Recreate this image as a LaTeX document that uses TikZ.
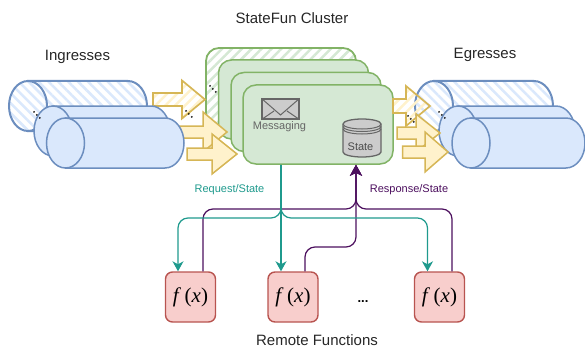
\documentclass[tikz,border=0pt]{standalone}
\usepackage{fontspec}
\setmainfont{Liberation Sans}
\newfontfamily\fnfont{Liberation Serif}
\usetikzlibrary{arrows.meta,patterns.meta}
\definecolor{bluefill}{HTML}{DAE8FC}
\definecolor{blueline}{HTML}{6C8EBF}
\definecolor{greenfill}{HTML}{D5E8D4}
\definecolor{greenline}{HTML}{82B366}
\definecolor{yellowfill}{HTML}{FFF2CC}
\definecolor{yellowline}{HTML}{D6B656}
\definecolor{redfill}{HTML}{F8CECC}
\definecolor{redline}{HTML}{B85450}
\definecolor{reqcolor}{HTML}{1F9A8D}
\definecolor{respcolor}{HTML}{4C0F5E}
\tikzset{
    txt/.style={inner sep=0pt, font=\fontsize{15}{18}\selectfont, text=black!85},
    smalltxt/.style={inner sep=0pt, font=\fontsize{11}{13}\selectfont},
    graybox/.style={draw=black!60, fill=black!20, line width=1.3pt},
    dots/.style={inner sep=0pt, rotate=-45, font=\fontsize{15}{18}\selectfont},
    cyl/.style={draw=blueline, fill=bluefill, line width=1.5pt},
    cylback/.style={draw=blueline, line width=2pt, preaction={fill=white},
        pattern={Lines[angle=-45,distance=7pt,line width=2.5pt]}, pattern color=bluefill},
    inst/.style={draw=greenline, fill=greenfill, line width=1.5pt, rounded corners=13pt,
        minimum width=150pt, minimum height=79pt, inner sep=0pt},
    instback/.style={inst, fill=none, line width=1.8pt, preaction={fill=white},
        pattern={Lines[angle=45,distance=7pt,line width=2.5pt]}, pattern color=greenfill},
    arr/.style={draw=yellowline, fill=yellowfill, line width=1.5pt},
    arrback/.style={draw=yellowline, line width=1.7pt,
        pattern={Lines[angle=45,distance=7pt,line width=2.5pt]}, pattern color=yellowfill},
    fn/.style={draw=redline, fill=redfill, line width=1.4pt, rounded corners=7pt,
        minimum width=50pt, minimum height=50pt, inner sep=0pt,
        font=\fnfont\fontsize{21}{24}\selectfont},
    req/.style={draw=reqcolor, line width=1.2pt, rounded corners=10pt,
        -{Stealth[length=10pt,width=11pt,inset=3pt]}},
    resp/.style={draw=respcolor, line width=1.2pt, rounded corners=10pt,
        -{Stealth[length=11pt,width=12pt,inset=3pt]}},
}
% style, centre of left end, top, right end
\newcommand{\cylinder}[4]{
    \draw[#1] (#2,#3) -- ({#4-19},#3) arc (-90:90:19 and 25) -- (#2,{#3+50}) -- cycle;
    \draw[#1] (#2,{#3+25}) ellipse (19 and 25);
}
% style, start, mid y, head base, tip, shaft half height, head half height
\newcommand{\blockarrow}[7]{
    \draw[#1] (#2,{#3-#6}) -- (#4,{#3-#6}) -- (#4,{#3-#7}) -- (#5,#3)
        -- (#4,{#3+#7}) -- (#4,{#3+#6}) -- (#2,{#3+#6}) -- cycle;
}
\newcommand{\fofx}{\textit{f}\,(\textit{x})}
\begin{document}
\begin{tikzpicture}[x=1pt, y=-1pt]
    \useasboundingbox (0,0) rectangle (585,350);

    \node[instback] (instD) at (281,87.5) {};
    \node[inst] (instC) at (293.5,99.5) {};
    \node[inst] (instB) at (306,112) {};

    \blockarrow{arrback}{153}{99.5}{182}{205}{6.5}{19}
    \blockarrow{arr}{170}{132}{203}{227}{6}{20}
    \blockarrow{arr}{187}{154}{212}{237}{6}{20}

    \cylinder{cylback}{28}{81}{147}
    \cylinder{cyl}{53}{106}{170}
    \cylinder{cyl}{65.5}{118}{184}

    \node[inst] (instA) at (318,124.5) {};

    \cylinder{cylback}{434}{81}{553}
    \cylinder{cyl}{458}{106}{575}
    \cylinder{cyl}{471}{118}{585}

    \blockarrow{arrback}{393}{106}{406}{430}{7}{20}
    \blockarrow{arr}{397}{133}{416}{440}{6}{19}
    \blockarrow{arr}{402.5}{152}{425}{448}{6}{20}

    % messaging and state
    \node[graybox, minimum width=37pt, minimum height=20pt, inner sep=0pt] (mail) at (280.5,109) {};
    \draw[graybox, fill=none, line width=1pt] (mail.north west) -- (280.5,115) -- (mail.north east)
        (mail.south west) -- (274,111) (mail.south east) -- (287,111);
    \node[smalltxt, text=black!60] (msg) at (279.5,127) {Messaging};
    \draw[graybox] (343,124) arc (180:360:19 and 5) -- (381,152) arc (0:180:19 and 5) -- cycle;
    \draw[graybox, fill=none, line width=1pt] (343,124) arc (180:0:19 and 5)
        (343,126.5) arc (180:0:19 and 5)
        (343,129) arc (180:0:19 and 5);
    \node[smalltxt, text=black!70] (store) at (360.5,146.5) {State};

    \node[fn] (fnA) at (190.5,297) {\fofx};
    \node[fn] (fnB) at (293,297) {\fofx};
    \node[fn] (fnC) at (439.5,297) {\fofx};

    \coordinate (reqOut) at ([xshift=-37pt]instA.south);
    \coordinate (respIn) at ([xshift=38pt]instA.south);
    \draw[resp] ([xshift=12.5pt]fnA.north) |- (356,209) -- (respIn);
    \draw[resp] ([xshift=12pt]fnB.north) |- (356,247) -- (respIn);
    \draw[resp] ([xshift=12.5pt]fnC.north) |- (356,209) -- (respIn);
    \draw[req] (reqOut) -- (281,218) -| ([xshift=-12.5pt]fnA.north);
    \draw[req] (reqOut) -- ([xshift=-12pt]fnB.north);
    \draw[req] (reqOut) -- (281,218) -| ([xshift=-12pt]fnC.north);

    \node[txt] (lblIn) at (77.5,57) {Ingresses};
    \node[txt] (lblOut) at (485,54.5) {Egresses};
    \node[txt] (lblCluster) at (292,18.5) {StateFun Cluster};
    \node[txt] (lblFn) at (317,340.5) {Remote Functions};
    \node[smalltxt, text=reqcolor] (lblReq) at (229.5,190) {Request/State};
    \node[smalltxt, text=respcolor] (lblResp) at (409,190) {Response/State};
    \node[inner sep=0pt, font=\bfseries\fontsize{13}{15}\selectfont] (more) at (363,302) {...};

    \node[dots] (dotsA) at (37,115) {...};
    \node[dots] (dotsB) at (189,114) {...};
    \node[dots] (dotsC) at (213,89) {...};
    \node[dots] (dotsD) at (411,119) {...};
    \node[dots] (dotsE) at (442,115) {...};
\end{tikzpicture}
\end{document}
